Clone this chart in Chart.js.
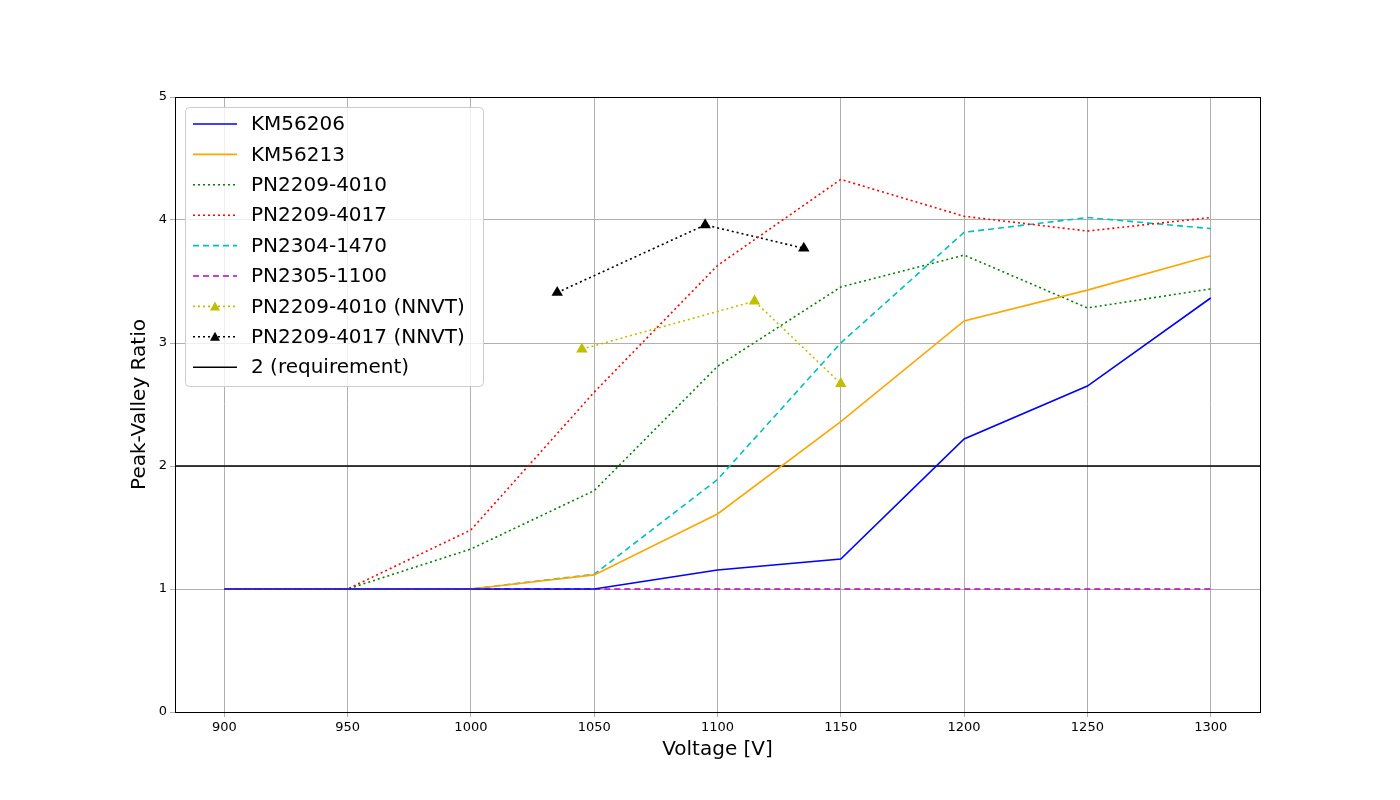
<!DOCTYPE html>
<html><head><script src="https://cdn.jsdelivr.net/npm/chart.js@4"></script>
<style>body{margin:0;background:#fff}</style></head>
<body><canvas id="c" width="1400" height="800"></canvas>
<script>
const voltages=[900,950,1000,1050,1100,1150,1200,1250,1300];
const km56206=[1,1,1,1,1.154,1.244,2.22,2.65,3.366];
const km56213=[1,1,1,1.115,1.61,2.36,3.18,3.43,3.71];
const pn4010=[1,1,1.325,1.80,2.81,3.455,3.715,3.285,3.44];
const pn4017=[1,1,1.48,2.60,3.63,4.33,4.03,3.91,4.02];
const pn1470=[1,1,1,1.12,1.89,3.0,3.90,4.02,3.93];
const pn1100=[1,1,1,1,1,1,1,1,1];
const nnvt4010V=[1045,1115,1150], nnvt4010=[2.95,3.34,2.67];
const nnvt4017V=[1035,1095,1135], nnvt4017=[3.41,3.96,3.77];
const reqV=[880,1320], req=[2,2];
const xTicks=[900,950,1000,1050,1100,1150,1200,1250,1300];
const xy=(xs,ys)=>xs.map((x,i)=>({x,y:ys[i]}));
const dot=[2,3], dash=[6,4];
const ds=[
 {label:'KM56206',data:xy(voltages,km56206),borderColor:'#0000ff',dash:[]},
 {label:'KM56213',data:xy(voltages,km56213),borderColor:'#ffa500',dash:[]},
 {label:'PN2209-4010',data:xy(voltages,pn4010),borderColor:'#008000',dash:dot},
 {label:'PN2209-4017',data:xy(voltages,pn4017),borderColor:'#ff0000',dash:dot},
 {label:'PN2304-1470',data:xy(voltages,pn1470),borderColor:'#00bfbf',dash:dash},
 {label:'PN2305-1100',data:xy(voltages,pn1100),borderColor:'#bf00bf',dash:dash},
 {label:'PN2209-4010 (NNVT)',data:xy(nnvt4010V,nnvt4010),borderColor:'#bfbf00',dash:dot,marker:true},
 {label:'PN2209-4017 (NNVT)',data:xy(nnvt4017V,nnvt4017),borderColor:'#000000',dash:dot,marker:true},
 {label:'2 (requirement)',data:xy(reqV,req),borderColor:'#000000',dash:[]},
].map(d=>({...d,borderDash:d.dash,borderWidth:1.6,backgroundColor:d.borderColor,pointStyle:'triangle',pointRadius:d.marker?5:0,tension:0,fill:false}));
const legendPlugin={id:'lg',afterDraw(ch){const c=ch.ctx;c.save();
 const a=ch.chartArea;c.strokeStyle='#000';c.lineWidth=1;c.strokeRect(a.left+.5,a.top+.5,a.right-a.left,a.bottom-a.top);
 c.fillStyle='#000';c.font='20px "DejaVu Sans"';c.textAlign='center';c.textBaseline='middle';
 c.fillText('Voltage [V]',(a.left+a.right)/2,750);
 c.save();c.translate(140,(a.top+a.bottom)/2);c.rotate(-Math.PI/2);c.fillText('Peak-Valley Ratio',0,0);c.restore();
 c.textAlign='left';
 const x0=185,y0=107,w=298,h=279;c.fillStyle='rgba(255,255,255,0.8)';c.strokeStyle='#ccc';
 c.beginPath();c.roundRect(x0+.5,y0+.5,w,h,4);c.fill();c.stroke();
 ds.forEach((d,i)=>{const y=124+i*30.4;c.strokeStyle=d.borderColor;c.lineWidth=1.6;c.setLineDash(d.borderDash);
  c.beginPath();c.moveTo(193,y);c.lineTo(237,y);c.stroke();c.setLineDash([]);
  if(d.marker){c.fillStyle=d.borderColor;c.beginPath();c.moveTo(215,y-5);c.lineTo(220,y+4);c.lineTo(210,y+4);c.closePath();c.fill();}
  c.fillStyle='#000';c.fillText(d.label,251,y+1);});
 c.restore();}};
new Chart(document.getElementById('c'),{type:'line',data:{datasets:ds},plugins:[legendPlugin],
 options:{responsive:false,animation:false,layout:{padding:{top:97,right:140,left:0,bottom:0}},
 plugins:{legend:{display:false},tooltip:{enabled:false}},
 scales:{x:{type:'linear',min:880,max:1320,afterBuildTicks:s=>{s.ticks=xTicks.map(v=>({value:v}))},
   afterFit:s=>{s.height=88},grid:{color:'#b0b0b0',tickLength:5},border:{color:'#000'},
   ticks:{color:'#000',font:{size:13,family:'DejaVu Sans'},maxRotation:0,callback:v=>String(v)}},
  y:{min:0,max:5,afterFit:s=>{s.width=175},grid:{color:'#b0b0b0',tickLength:5},border:{color:'#000'},
   ticks:{stepSize:1,color:'#000',font:{size:13,family:'DejaVu Sans'},callback:v=>String(v)}}}}});
</script></body></html>
